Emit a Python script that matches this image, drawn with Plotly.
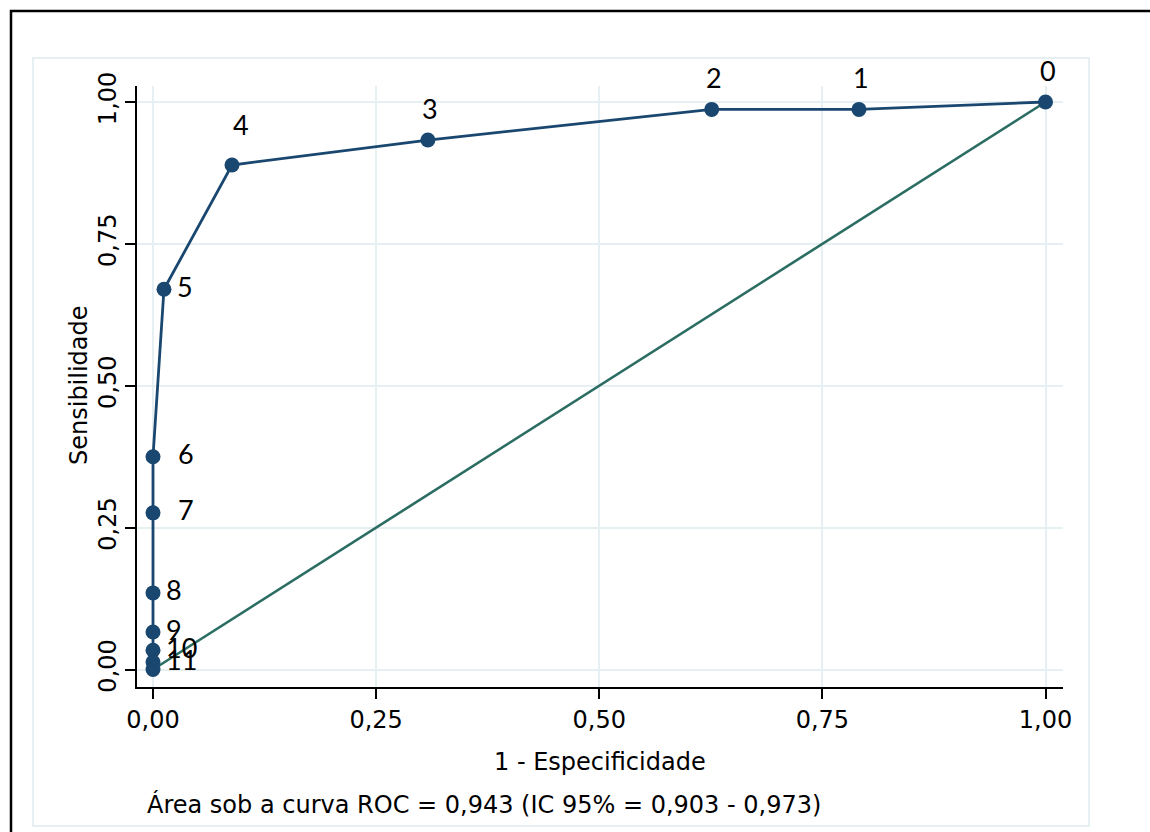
import plotly.graph_objects as go

# ROC curve points (1 - specificity, sensitivity) with cut-point labels
fpr = [1.0, 0.791, 0.626, 0.308, 0.0885, 0.0123, 0.0, 0.0, 0.0, 0.0, 0.0, 0.0, 0.0]
tpr = [1.0, 0.987, 0.987, 0.933, 0.889, 0.670, 0.375, 0.276, 0.135, 0.066, 0.034, 0.013, 0.0]
cut_labels = ["0", "1", "2", "3", "4", "5", "6", "7", "8", "9", "10", "11", ""]

# Reference (chance) line
ref_x = [0.0, 1.0]
ref_y = [0.0, 1.0]

tick_vals = [0.0, 0.25, 0.50, 0.75, 1.0]
tick_text = ["0,00", "0,25", "0,50", "0,75", "1,00"]

x_title = "1 - Especificidade"
y_title = "Sensibilidade"
note = "Área sob a curva ROC = 0,943 (IC 95% = 0,903 - 0,973)"

NAVY = "#1a476f"
TEAL = "#2c6d63"
GRID = "#e6eff1"

W, H = 1150, 832
L, R, T, B = 137, 1063, 86, 687  # plot area in pixels


def px(xp):
    return (xp - L) / (R - L)


def py(yp):
    return (B - yp) / (B - T)


fig = go.Figure()

fig.add_trace(go.Scatter(
    x=ref_x, y=ref_y, mode="lines",
    line=dict(color=TEAL, width=2.6), hoverinfo="skip", showlegend=False,
))
fig.add_trace(go.Scatter(
    x=fpr, y=tpr, mode="lines+markers",
    line=dict(color=NAVY, width=2.8),
    marker=dict(color=NAVY, size=15),
    showlegend=False,
))

# cut-point labels: above the point on the flat part, to the right on the steep part
lab_font = dict(family="Lato", size=27, color="black")
annotations = []
for xv, yv, lab in zip(fpr, tpr, cut_labels):
    if not lab:
        continue
    if xv >= 0.05:
        steep = xv < 0.2  # label sits up and right where the curve bends
        annotations.append(dict(x=xv, y=yv, xref="x", yref="y", text=lab, showarrow=False,
                                xanchor="center", yanchor="middle",
                                yshift=40 if steep else 32, xshift=9 if steep else 2,
                                font=lab_font))
    else:
        dx = 23 if 0.2 < yv < 0.5 else 11
        annotations.append(dict(x=xv, y=yv, xref="x", yref="y", text=lab, showarrow=False,
                                xanchor="left", yanchor="middle", xshift=dx, yshift=3,
                                font=lab_font))

txt_font = dict(family="DejaVu Sans", size=24, color="black")
annotations += [
    dict(x=px((L + R) / 2), y=py(762), xref="paper", yref="paper", text=x_title,
         showarrow=False, xanchor="center", yanchor="middle", font=txt_font),
    dict(x=px(79), y=py(385), xref="paper", yref="paper", text=y_title, textangle=-90,
         showarrow=False, xanchor="center", yanchor="middle", font=txt_font),
    dict(x=px(484), y=py(804), xref="paper", yref="paper", text=note,
         showarrow=False, xanchor="center", yanchor="middle", font=txt_font),
]

shapes = [
    # outer black frame
    dict(type="rect", xref="paper", yref="paper", x0=px(11), x1=px(1170), y0=py(850), y1=py(11),
         line=dict(color="black", width=2.5), fillcolor="rgba(0,0,0,0)", layer="below"),
    # inner light frame around the graph region
    dict(type="rect", xref="paper", yref="paper", x0=px(33), x1=px(1089), y0=py(826), y1=py(58),
         line=dict(color=GRID, width=2), fillcolor="rgba(0,0,0,0)", layer="below"),
]

x0 = -(153 - L) / 892.5
x1 = 1 + (R - 1045.5) / 892.5
y0 = -(B - 669.5) / 567.5
y1 = 1 + (102 - T) / 567.5

axis_common = dict(
    tickvals=tick_vals, ticktext=tick_text,
    showgrid=True, gridcolor=GRID, gridwidth=2,
    zeroline=False, showline=True, linecolor="black", linewidth=1.5,
    ticks="outside", ticklen=10, tickwidth=1.5, tickcolor="black",
    tickfont=txt_font,
)

fig.update_layout(
    width=W, height=H,
    margin=dict(l=L, r=W - R, t=T, b=H - B),
    plot_bgcolor="white", paper_bgcolor="white",
    xaxis=dict(range=[x0, x1], **axis_common),
    yaxis=dict(range=[y0, y1], tickangle=-90, **axis_common),
    annotations=annotations,
    shapes=shapes,
)

fig.write_html("out.html")
